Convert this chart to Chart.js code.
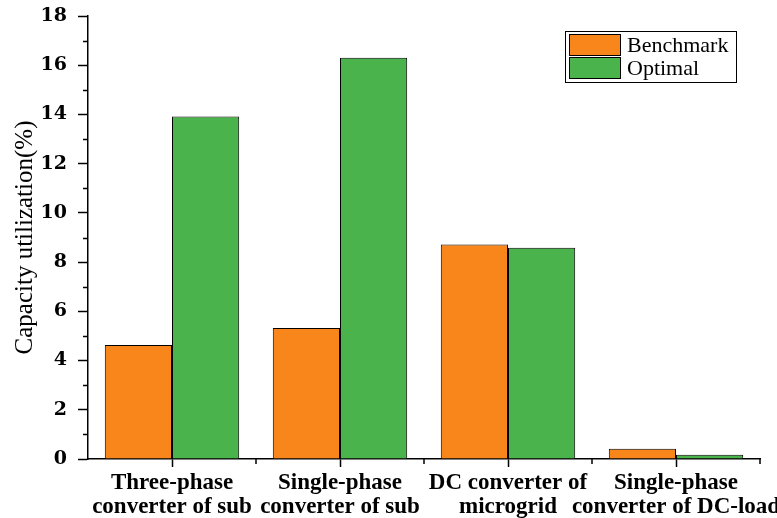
<!DOCTYPE html>
<html>
<head>
<meta charset="utf-8">
<script src="https://cdn.jsdelivr.net/npm/chart.js@4"></script>
<style>
  html, body { margin: 0; padding: 0; background: #fff; }
</style>
</head>
<body>
<canvas id="capChart" width="777" height="518"></canvas>
<script>
// data
const categories = [
  ['Three-phase', 'converter of sub'],
  ['Single-phase', 'converter of sub'],
  ['DC converter of', 'microgrid'],
  ['Single-phase', 'converter of DC-load']
];
const seriesNames = ['Benchmark', 'Optimal'];
const benchmark = [4.63, 5.32, 8.72, 0.42];
const optimal = [13.92, 16.3, 8.58, 0.17];
const yMin = 0, yMax = 18, yStep = 2;
const yTitle = 'Capacity utilization(%)';

const orange = '#F8861B';
const green = '#4AB34B';

// short ticks between the major ones, plus the boxed legend
const extrasPlugin = {
  id: 'extras',
  afterDraw(chart) {
    const ctx = chart.ctx;
    const xs = chart.scales.x, ys = chart.scales.y;
    const area = chart.chartArea;
    ctx.save();
    ctx.strokeStyle = '#000';
    ctx.lineWidth = 1.5;
    ctx.beginPath();
    for (let v = yMin + yStep / 2; v < yMax; v += yStep) {
      const py = Math.round(ys.getPixelForValue(v)) + 0.5;
      ctx.moveTo(area.left - 5, py);
      ctx.lineTo(area.left, py);
    }
    for (let i = 0; i < categories.length; i++) {
      const px = Math.round(xs.getPixelForValue(i + 0.5));
      ctx.moveTo(px, area.bottom);
      ctx.lineTo(px, area.bottom + 5);
    }
    ctx.stroke();

    // legend
    const bx = 565, by = 31, bw = 171, bh = 51;
    ctx.lineWidth = 1;
    ctx.strokeStyle = '#000';
    ctx.strokeRect(bx + 0.5, by + 0.5, bw, bh);
    ctx.font = '22px "Liberation Serif"';
    ctx.textBaseline = 'alphabetic';
    ctx.fillStyle = '#000';
    chart.data.datasets.forEach((ds, i) => {
      const ry = by + 3 + i * 23;
      ctx.fillStyle = ds.backgroundColor;
      ctx.fillRect(bx + 4, ry, 52, 22);
      ctx.strokeStyle = '#000';
      ctx.strokeRect(bx + 4.5, ry + 0.5, 51, 21);
      ctx.fillStyle = '#000';
      ctx.fillText(ds.label, bx + 62, ry + 18);
    });
    ctx.restore();
  }
};

const ctx = document.getElementById('capChart').getContext('2d');
new Chart(ctx, {
  type: 'bar',
  data: {
    labels: categories,
    datasets: [
      { label: seriesNames[0], data: benchmark, backgroundColor: orange, borderColor: '#000', borderWidth: 1, borderSkipped: 'bottom' },
      { label: seriesNames[1], data: optimal, backgroundColor: green, borderColor: '#000', borderWidth: 1, borderSkipped: 'bottom' }
    ]
  },
  options: {
    responsive: false,
    animation: false,
    devicePixelRatio: 1,
    layout: { padding: { top: 16, right: 17, left: 0, bottom: 0 } },
    datasets: { bar: { categoryPercentage: 0.8, barPercentage: 1.0 } },
    plugins: {
      legend: { display: false },
      tooltip: { enabled: false }
    },
    scales: {
      x: {
        grid: { display: true, drawOnChartArea: false, offset: false, tickLength: 8, tickWidth: 1.5, tickColor: '#000' },
        border: { display: true, color: '#000', width: 1.5 },
        ticks: {
          color: '#000',
          padding: 4,
          maxRotation: 0,
          autoSkip: false,
          font: { family: '"Liberation Serif"', size: 23, weight: 'bold', lineHeight: 1.05 }
        },
        afterFit(scale) {
          scale.height = 59;
          scale.paddingLeft = 0;
          scale.paddingRight = 0;
        }
      },
      y: {
        min: yMin,
        max: yMax,
        grid: { display: true, drawOnChartArea: false, tickLength: 10, tickWidth: 1.5, tickColor: '#000' },
        border: { display: true, color: '#000', width: 1.5 },
        ticks: {
          stepSize: yStep,
          color: '#000',
          padding: 11,
          font: { family: '"DejaVu Serif"', size: 19, weight: 'bold' }
        },
        title: {
          display: true,
          text: yTitle,
          color: '#000',
          padding: { top: 10, bottom: 0 },
          font: { family: '"Liberation Serif"', size: 25, weight: 'normal' }
        },
        afterFit(scale) {
          scale.width = 88;
          scale.paddingTop = 0;
          scale.paddingBottom = 0;
        }
      }
    }
  },
  plugins: [extrasPlugin]
});
</script>
</body>
</html>
